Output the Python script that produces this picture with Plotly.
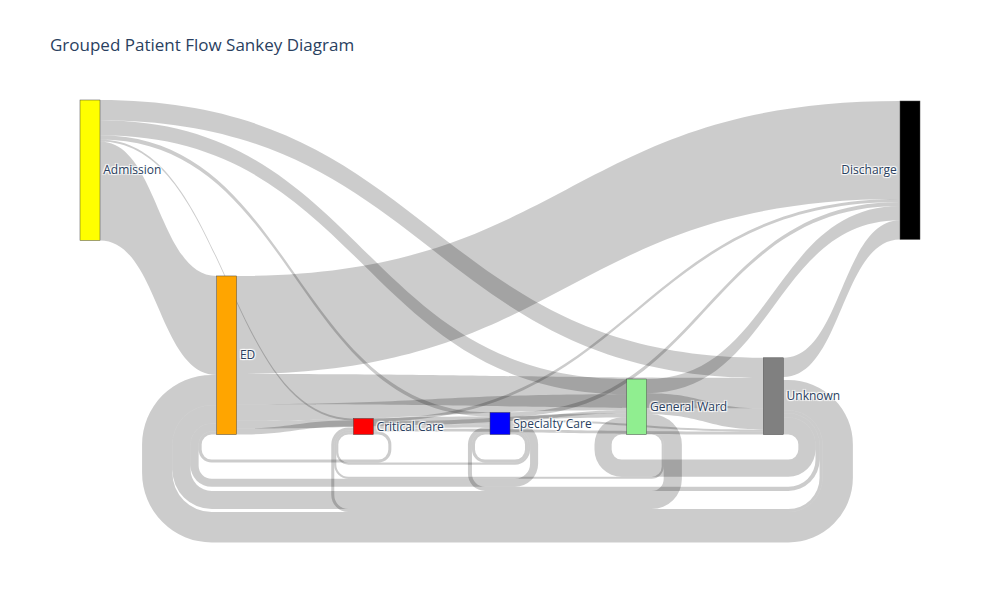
import plotly.graph_objects as go

labels = ["Admission", "ED", "Critical Care", "Specialty Care", "General Ward", "Unknown", "Discharge"]
node_colors = ["yellow", "orange", "red", "blue", "lightgreen", "gray", "black"]

link_source = ["Admission", "Admission", "Admission", "Admission", "Admission",
               "ED", "ED", "ED", "ED", "ED",
               "Critical Care", "Critical Care", "Critical Care", "Critical Care", "Critical Care",
               "Specialty Care", "Specialty Care", "Specialty Care", "Specialty Care", "Specialty Care", "Specialty Care",
               "General Ward", "General Ward", "General Ward", "General Ward",
               "Unknown", "Unknown", "Unknown", "Unknown", "Unknown"]
link_target = ["Unknown", "General Ward", "Specialty Care", "Critical Care", "ED",
               "Discharge", "Unknown", "General Ward", "Specialty Care", "Critical Care",
               "ED", "Specialty Care", "General Ward", "Unknown", "Discharge",
               "ED", "Critical Care", "Specialty Care", "General Ward", "Unknown", "Discharge",
               "ED", "Critical Care", "Unknown", "Discharge",
               "Discharge", "ED", "General Ward", "Specialty Care", "Critical Care"]
link_value = [20, 15, 4, 2, 98,
              97, 30, 16, 8, 6,
              3, 3, 4, 3, 3,
              8, 2, 3, 3, 2, 4,
              18, 2, 21, 14,
              19, 30, 17, 4, 3]

idx = {name: i for i, name in enumerate(labels)}

fig = go.Figure(go.Sankey(
    node=dict(
        label=labels,
        color=node_colors,
        pad=20,
        thickness=20,
        line=dict(color="#444", width=0.5),
    ),
    link=dict(
        source=[idx[s] for s in link_source],
        target=[idx[t] for t in link_target],
        value=link_value,
    ),
))

fig.update_layout(
    title=dict(text="Grouped Patient Flow Sankey Diagram",
               x=42 / 992, xanchor="left",
               yref="container", y=1 - 37 / 592, yanchor="middle"),
    width=992,
    height=592,
    margin=dict(l=72, r=80, t=92, b=80),
)

fig.write_html("out.html")
